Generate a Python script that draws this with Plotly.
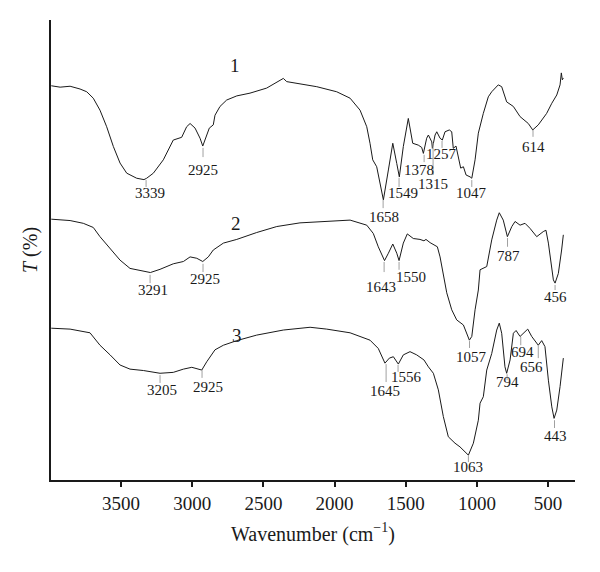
"""
FT-IR spectra of three samples, stacked transmittance curves.
"""
import plotly.graph_objects as go

# wavenumber (cm-1) and transmittance (arbitrary %, offset per curve)
wn_1 = [3990, 3928, 3858, 3788, 3741, 3695, 3648, 3601, 3554, 3507, 3460, 3390, 3339, 3320,
        3273, 3203, 3133, 3098, 3074, 3039, 3015, 2980, 2945, 2926, 2903, 2880, 2852, 2840,
        2805, 2758, 2687, 2594, 2477, 2371, 2360, 2336, 2125, 1985, 1891, 1821, 1774, 1751,
        1732, 1704, 1681, 1657, 1622, 1591, 1563, 1545, 1517, 1482, 1451, 1412, 1388, 1376,
        1353, 1341, 1317, 1313, 1294, 1282, 1259, 1243, 1224, 1194, 1177, 1166, 1147, 1131,
        1114, 1095, 1076, 1048, 1036, 1013, 990, 955, 920, 896, 873, 850, 826, 791, 744, 697,
        639, 608, 569, 510, 474, 439, 416, 407, 400, 393]
t_1 = [85.7, 85.4, 85.6, 85.0, 84.4, 83.0, 80.4, 76.8, 72.5, 68.9, 66.7, 65.6, 65.3, 65.6,
       66.7, 69.6, 73.9, 74.3, 74.5, 76.8, 77.5, 76.5, 74.3, 72.6, 74.6, 76.5, 77.2, 79.3,
       81.2, 82.6, 83.5, 84.1, 85.2, 87.1, 87.3, 86.6, 85.5, 84.4, 83.0, 80.4, 76.8, 73.2,
       69.6, 68.1, 64.5, 60.9, 67.4, 73.2, 68.8, 65.9, 72.5, 78.6, 73.2, 72.8, 72.3, 71.0,
       74.3, 75.0, 73.5, 72.1, 75.0, 75.7, 74.3, 73.9, 75.7, 76.1, 75.7, 72.1, 72.6, 70.3,
       67.8, 68.1, 66.3, 65.9, 65.6, 69.6, 75.4, 79.7, 83.3, 84.4, 85.2, 85.9, 85.5, 82.2,
       81.2, 79.0, 77.5, 76.1, 77.2, 79.7, 81.9, 83.7, 85.9, 88.5, 87.0, 87.4]

wn_2 = [3990, 3858, 3765, 3695, 3648, 3577, 3507, 3437, 3367, 3294, 3226, 3133, 3062, 3015,
        2968, 2926, 2887, 2852, 2781, 2687, 2547, 2406, 2243, 2009, 1891, 1774, 1728, 1693,
        1649, 1622, 1591, 1563, 1547, 1517, 1489, 1447, 1400, 1372, 1358, 1329, 1294, 1278,
        1259, 1236, 1212, 1177, 1142, 1095, 1071, 1053, 1036, 1013, 990, 978, 931, 896, 861,
        843, 815, 786, 755, 732, 697, 662, 627, 580, 534, 515, 498, 481, 463, 451, 428, 405,
        393]
t_2 = [56.7, 56.4, 55.8, 54.9, 52.9, 50.4, 47.8, 46.0, 45.5, 45.1, 45.8, 47.0, 47.5, 48.5,
       48.2, 47.5, 48.5, 50.0, 51.5, 52.3, 53.8, 55.1, 55.9, 56.4, 56.5, 55.4, 53.6, 50.7,
       47.7, 49.3, 51.3, 49.3, 47.7, 51.5, 53.5, 52.5, 52.3, 52.0, 52.3, 51.6, 51.1, 50.7,
       48.5, 44.2, 40.7, 37.0, 34.8, 33.7, 31.9, 30.4, 31.2, 37.0, 41.3, 45.7, 46.4, 52.2,
       56.5, 58.1, 56.5, 52.9, 55.1, 56.2, 55.4, 55.8, 54.7, 52.9, 54.0, 54.3, 51.5, 47.1,
       43.5, 42.8, 44.9, 50.0, 53.3]

wn_3 = [3990, 3858, 3718, 3648, 3577, 3507, 3437, 3343, 3226, 3133, 3062, 3003, 2933, 2898,
        2840, 2781, 2687, 2547, 2360, 2172, 2055, 1891, 1751, 1693, 1646, 1615, 1587, 1552,
        1517, 1470, 1423, 1372, 1341, 1306, 1271, 1236, 1201, 1154, 1119, 1083, 1060, 1025,
        990, 978, 955, 931, 896, 861, 843, 826, 803, 791, 767, 744, 725, 697, 662, 643, 615,
        580, 569, 545, 522, 498, 474, 458, 439, 416, 393]
t_3 = [33.0, 32.8, 32.0, 29.3, 27.2, 25.0, 24.1, 23.8, 23.2, 23.4, 24.1, 24.5, 23.9, 25.7,
       28.3, 29.3, 30.3, 31.5, 32.6, 33.2, 32.8, 32.0, 30.4, 28.6, 25.4, 26.5, 26.8, 25.2,
       27.2, 27.9, 27.2, 26.1, 24.6, 23.2, 19.6, 13.8, 9.4, 8.0, 7.2, 6.2, 5.4, 8.0, 13.0,
       16.7, 18.1, 23.9, 27.5, 32.6, 34.1, 31.9, 24.6, 23.2, 26.1, 31.9, 32.5, 31.2, 32.2,
       32.8, 31.2, 29.7, 29.3, 30.3, 29.0, 21.7, 15.9, 13.4, 15.2, 20.3, 26.5]

# peak labels: text, tick wavenumber, tick top, tick bottom, label wavenumber, label T
peaks = [
    ("3339", 3324, 65.2, 63.7, 3296, 62.3),
    ("2925", 2924, 72.2, 70.2, 2926, 67.5),
    ("1658", 1659, 60.9, 59.1, 1650, 57.2),
    ("1549", 1547, 65.7, 63.7, 1519, 62.5),
    ("1378", 1371, 70.7, 69.1, 1409, 67.4),
    ("1315", 1308, 73.3, 66.3, 1306, 64.3),
    ("1257", 1245, 73.7, 72.2, 1252, 70.8),
    ("1047", 1036, 65.2, 63.7, 1036, 62.5),
    ("614", 606, 76.1, 74.6, 604, 72.5),
    ("3291", 3296, 44.6, 42.8, 3273, 41.3),
    ("2925", 2924, 47.0, 45.2, 2910, 43.6),
    ("1643", 1652, 47.4, 45.2, 1674, 41.9),
    ("1550", 1547, 47.4, 45.7, 1463, 44.2),
    ("1057", 1052, 30.2, 28.7, 1036, 26.8),
    ("787", 785, 52.6, 50.7, 779, 48.7),
    ("456", 451, 42.4, 41.3, 451, 39.7),
    ("3205", 3226, 22.8, 21.1, 3214, 19.6),
    ("2925", 2931, 23.9, 22.2, 2887, 20.3),
    ("1645", 1638, 25.2, 21.3, 1645, 19.4),
    ("1556", 1554, 25.0, 23.5, 1498, 22.3),
    ("1063", 1060, 5.2, 3.9, 1060, 2.9),
    ("794", 788, 23.0, 21.7, 786, 21.2),
    ("694", 692, 31.1, 29.3, 678, 27.9),
    ("656", 569, 29.3, 26.5, 615, 24.5),
    ("443", 455, 13.0, 11.3, 451, 9.6),
]

# curve numbers
curve_names = ["1", "2", "3"]
curve_label_wn = [2697, 2692, 2687]
curve_label_t = [90.2, 55.8, 31.5]

SERIF = "Liberation Serif, Times New Roman, serif"

fig = go.Figure()
for wn, t in [(wn_1, t_1), (wn_2, t_2), (wn_3, t_3)]:
    fig.add_trace(go.Scatter(x=wn, y=t, mode="lines",
                             line=dict(color="#1a1a1a", width=1),
                             showlegend=False, hoverinfo="skip"))

for text, px_, y0, y1, lx, ly in peaks:
    fig.add_shape(type="line", x0=px_, x1=px_, y0=y0, y1=y1,
                  line=dict(color="#a0a0a0", width=1))
    fig.add_annotation(x=lx, y=ly, text=text, showarrow=False,
                       font=dict(family=SERIF, size=15, color="#1a1a1a"))

for name, lx, ly in zip(curve_names, curve_label_wn, curve_label_t):
    fig.add_annotation(x=lx, y=ly, text=name, showarrow=False,
                       font=dict(family=SERIF, size=19, color="#1a1a1a"))

# page body has an 8px margin, so the figure is shrunk and shifted to match
fig.update_layout(
    width=592, height=564,
    margin=dict(l=43, r=25, t=12, b=92),
    plot_bgcolor="white", paper_bgcolor="white",
    font=dict(family=SERIF, size=19, color="#1a1a1a"),
    xaxis=dict(
        range=[3992, 311],
        tickvals=[3500, 3000, 2500, 2000, 1500, 1000, 500],
        ticks="outside", ticklen=5, tickwidth=1.5, tickcolor="#1a1a1a",
        showline=True, linecolor="#1a1a1a", linewidth=2,
        showgrid=False, zeroline=False,
        tickfont=dict(size=19),
        title=dict(text="Wavenumber (cm<sup>−1</sup>)", font=dict(size=20), standoff=14),
    ),
    yaxis=dict(
        range=[0, 100],
        showticklabels=False, ticks="",
        showline=True, linecolor="#1a1a1a", linewidth=2,
        showgrid=False, zeroline=False,
        title=dict(text="<i>T</i> (%)", font=dict(size=20), standoff=6),
    ),
)

fig.write_html("out.html")
